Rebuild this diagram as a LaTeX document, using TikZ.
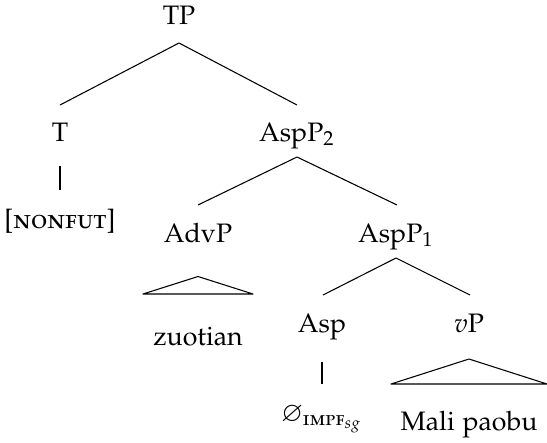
\documentclass[tikz,border=0pt]{standalone}
\usepackage[T1]{fontenc}
\usepackage[sc]{mathpazo}
\usepackage{amsmath,amssymb}
\usetikzlibrary{calc}
\tikzset{
  lbl/.style={inner sep=0pt, outer sep=0pt, text height=6.93pt, text depth=0pt, anchor=south, font=\fontsize{10}{12}\selectfont},
  branch/.style={line width=0.4pt, line join=round},
}
\begin{document}
\begin{tikzpicture}[x=0.3745pt, y=-0.3745pt]
\useasboundingbox (0,0) rectangle (547,442);
% nodes (x = centre, y = baseline, pixel units)
\node[lbl] (TP) at (179,24.5) {TP};
\node[lbl] (T) at (60,141) {T};
\node[lbl] (AspPtwo) at (297,141) {AspP$_2$};
\node[lbl] (nonfut) at (60,228.5) {[\textsc{nonfut}]};
\node[lbl] (AdvP) at (198,242) {AdvP};
\node[lbl] (AspPone) at (396,242) {AspP$_1$};
\node[lbl] (zuotian) at (198,345) {zuotian};
\node[lbl] (Asp) at (322,332) {Asp};
\node[lbl] (vP) at (469,332) {$v$P};
\node[lbl] (null) at (322,421) {$\varnothing_{\textsc{impf}_{sg}}$};
\node[lbl] (mali) at (469,430) {Mali paobu};
% branches
\draw[branch] ($(T.north)+(0,-17.5)$) -- ($(TP.south)+(0,18.5)$) -- ($(AspPtwo.north)+(0,-17.5)$);
\draw[branch] ($(T.south)+(0,25)$) -- ($(nonfut.north)+(0,-20)$);
\draw[branch] ($(AdvP.north)+(0,-18.5)$) -- ($(AspPtwo.south)+(0,16)$) -- ($(AspPone.north)+(1,-18.5)$);
\draw[branch] ($(zuotian.north)+(-55,-32.5)$) -- ($(AdvP.south)+(0,34.5)$) -- ($(zuotian.north)+(55,-32.5)$) -- cycle;
\draw[branch] ($(Asp.north)+(1,-18.5)$) -- ($(AspPone.south)+(0,16)$) -- ($(vP.north)+(1,-18.5)$);
\draw[branch] ($(Asp.south)+(0,30)$) -- ($(null.north)+(0,-18.5)$);
\draw[branch] ($(mali.north)+(-78,-27.5)$) -- ($(vP.south)+(0,27)$) -- ($(mali.north)+(78,-27.5)$) -- cycle;
\end{tikzpicture}
\end{document}
